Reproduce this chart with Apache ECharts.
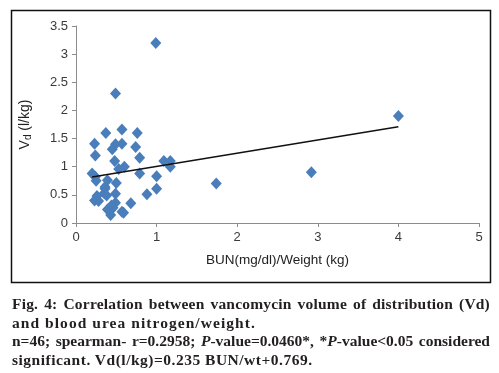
<!DOCTYPE html>
<html>
<head>
<meta charset="utf-8">
<script src="https://cdn.jsdelivr.net/npm/echarts@6/dist/echarts.min.js"></script>
<style>
  html, body { margin: 0; padding: 0; background: #fff; }
  #wrap { position: relative; width: 499px; height: 373px; overflow: hidden; }
  #chart { position: absolute; left: 0; top: 0; width: 499px; height: 373px; }
  #caption { position: absolute; left: 12px; top: 295px; width: 478px;
    font-family: "Liberation Serif", "DejaVu Serif", serif; font-weight: bold;
    font-size: 15.5px; line-height: 18.7px; color: #231f20; }
  .j { text-align: justify; text-align-last: justify; white-space: nowrap; }
  .l { text-align: left; white-space: nowrap; }
</style>
</head>
<body>
<div id="wrap">
  <div id="chart"></div>
  <div id="caption">
    <div class="j" style="letter-spacing:0.2px">Fig. 4: Correlation between vancomycin volume of distribution (Vd)</div>
    <div class="l" style="letter-spacing:1.05px">and blood urea nitrogen/weight.</div>
    <div class="j">n=46; spearman- r=0.2958; <i>P</i>-value=0.0460*, *<i>P</i>-value&lt;0.05 considered</div>
    <div class="l" style="letter-spacing:0.5px">significant. Vd(l/kg)=0.235 BUN/wt+0.769.</div>
  </div>
</div>
<script>
// BUN(mg/dl)/Weight (kg)
const bunWt = [0.37,0.57,0.76,0.23,0.49,0.57,0.45,0.74,0.24,0.79,
               0.48,0.60,0.53,0.20,0.25,0.39,0.50,0.79,1.00,1.09,
               1.17,1.17,1.74,1.00,0.88,0.49,0.36,0.35,0.26,0.23,
               0.28,0.49,0.68,0.39,0.46,0.43,0.59,0.49,0.99,4.00,
               2.92,0.24,0.36,0.38,0.44,0.57];
// Vd (l/kg)
const vd =    [1.60,1.66,1.60,1.41,1.40,1.41,1.31,1.35,1.20,1.16,
               1.10,1.00,0.96,0.88,0.75,0.76,0.71,0.88,0.83,1.10,
               1.10,1.00,0.70,0.61,0.51,0.52,0.61,0.53,0.48,0.40,
               0.39,0.36,0.35,0.24,0.27,0.14,0.18,2.30,3.20,1.90,
               0.90,0.82,0.64,0.49,0.31,0.20];
// Linear trend: Vd = 0.235 * BUN/wt + 0.769, drawn over the data range
const trendSlope = 0.235, trendIntercept = 0.769;
const trendX = [0.20, 4.00];
const xTicks = [0, 1, 2, 3, 4, 5];
const yTicks = [0, 0.5, 1, 1.5, 2, 2.5, 3, 3.5];

const points = bunWt.map((x, i) => [x, vd[i]]);
const trend = trendX.map(x => [x, trendSlope * x + trendIntercept]);

const chart = echarts.init(document.getElementById('chart'), null, { renderer: 'canvas' });
const labelFont = { fontFamily: 'Liberation Sans, Arial, sans-serif', fontSize: 13, color: '#3a3a3a' };
chart.setOption({
  animation: false,
  grid: { left: 76, right: 20, top: 26, bottom: 150, containLabel: false },
  graphic: [{
    type: 'rect', shape: { x: 11.5, y: 10.5, width: 479, height: 272 },
    style: { fill: 'none', stroke: '#111', lineWidth: 1.5 }, silent: true, z: 0
  }],
  xAxis: {
    type: 'value', min: xTicks[0], max: xTicks[xTicks.length - 1], interval: 1,
    name: 'BUN(mg/dl)/Weight (kg)', nameLocation: 'middle', nameGap: 30,
    nameTextStyle: { fontFamily: 'Liberation Sans, Arial, sans-serif', fontSize: 13.5, color: '#222' },
    axisLine: { lineStyle: { color: '#8c8c8c', width: 1 } },
    axisTick: { show: true, inside: false, length: 4, lineStyle: { color: '#8c8c8c' } },
    axisLabel: Object.assign({ margin: 8 }, labelFont),
    splitLine: { show: false }
  },
  yAxis: {
    type: 'value', min: yTicks[0], max: yTicks[yTicks.length - 1], interval: 0.5,
    name: '{v|V}{s|d}{v| (l/kg)}', nameLocation: 'middle', nameGap: 43, nameRotate: 90,
    nameTextStyle: { rich: {
      v: { fontFamily: 'Liberation Sans, Arial, sans-serif', fontSize: 14, color: '#222' },
      s: { fontFamily: 'Liberation Sans, Arial, sans-serif', fontSize: 10, color: '#222', verticalAlign: 'bottom', padding: [6, 0, 0, 0] }
    } },
    axisLine: { show: true, lineStyle: { color: '#8c8c8c', width: 1 } },
    axisTick: { show: true, inside: false, length: 4, lineStyle: { color: '#8c8c8c' } },
    axisLabel: Object.assign({ margin: 8 }, labelFont),
    splitLine: { show: false }
  },
  series: [
    {
      type: 'line', data: trend, symbol: 'none', silent: true, z: 3,
      lineStyle: { color: '#111', width: 1.5 }
    },
    {
      type: 'scatter', data: points, symbol: 'diamond', symbolSize: [11, 12], z: 2,
      itemStyle: { color: '#4a7ebb', opacity: 1 }
    }
  ]
});
</script>
</body>
</html>
